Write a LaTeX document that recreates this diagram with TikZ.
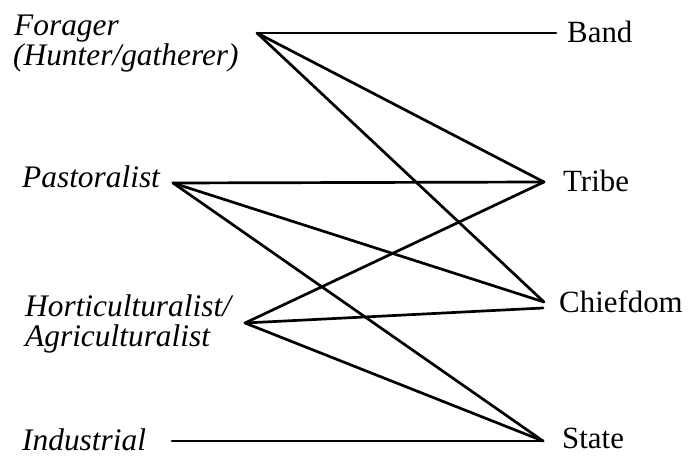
\documentclass[tikz,border=0pt]{standalone}
\usepackage{fontspec}
\setmainfont{Liberation Serif}
\begin{document}
\begin{tikzpicture}[x=1bp,y=-1bp,
  lab/.style={anchor=base west,inner sep=0pt,font=\fontsize{31}{37}\selectfont},
  ilab/.style={lab,font=\fontsize{31.5}{37}\selectfont\itshape,align=left},
  conn/.style={line width=2.7bp,line cap=round,line join=round}]
\useasboundingbox (0,0) rectangle (688,456);
% left labels
\node[ilab] (forager) at (14,36) {Forager};
\node[ilab] (hunter) at (13,66) {(Hunter/gatherer)};
\node[ilab] (pastoralist) at (22,188) {Pastoralist};
\node[ilab] (horti) at (25,317) {Horticulturalist/};
\node[ilab] (agri) at (25,346) {Agriculturalist};
\node[ilab] (industrial) at (22,450) {Industrial};
% right labels
\node[lab] (band) at (567,43) {Band};
\node[lab] (tribe) at (563,192) {Tribe};
\node[lab] (chiefdom) at (559,313) {Chiefdom};
\node[lab] (state) at (562,448) {State};
% connection points
\coordinate (pF) at (257,33);
\coordinate (pP) at (173,183);
\coordinate (pH) at (245,323);
\coordinate (pI) at (172,441);
\coordinate (pB) at (556,33);
\coordinate (pT) at (544,182);
\coordinate (pC) at (544,302);
\coordinate (pC2) at (543,308);
\coordinate (pS) at (543,441);
% connectors
\draw[conn] (pF) -- (pB);
\draw[conn] (pF) -- (pT);
\draw[conn] (pF) -- (pC);
\draw[conn] (pP) -- (pT);
\draw[conn] (pP) -- (pC);
\draw[conn] (pP) -- (pS);
\draw[conn] (pH) -- (pT);
\draw[conn] (pH) -- (pC2);
\draw[conn] (pH) -- (pS);
\draw[conn] (pI) -- (pS);
\end{tikzpicture}
\end{document}
